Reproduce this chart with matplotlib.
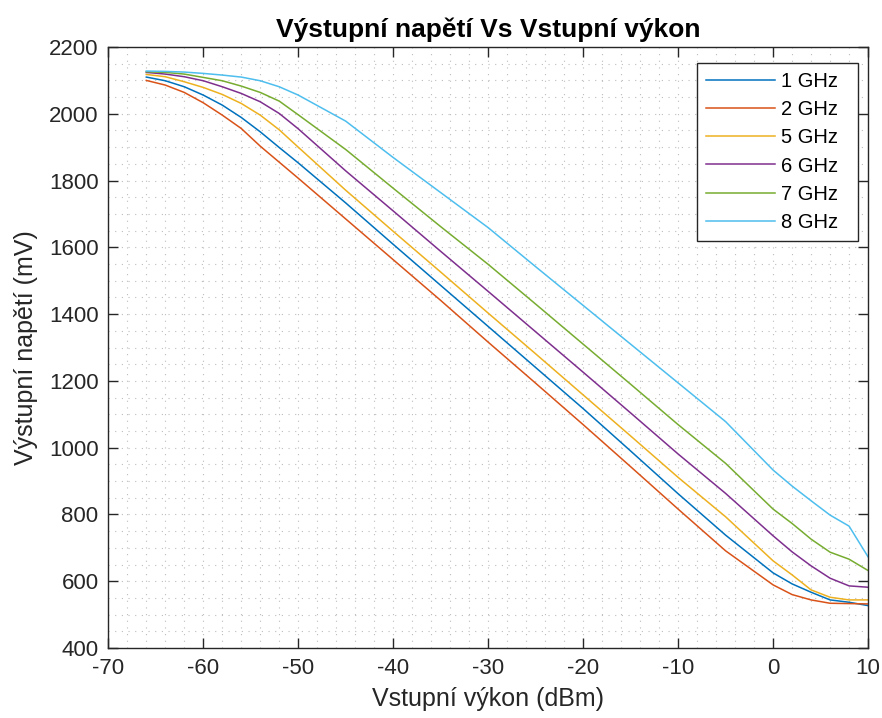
import numpy as np
import matplotlib.pyplot as plt
from matplotlib.ticker import MultipleLocator

plt.rcParams['font.family'] = ['Liberation Sans', 'DejaVu Sans']
plt.rcParams['axes.unicode_minus'] = False

# vstupni vykon (dBm)
pin = [-66, -64, -62, -60, -58, -56, -54, -52, -50, -45, -40, -35, -30,
       -25, -20, -15, -10, -5, 0, 2, 4, 6, 8, 10]

# vystupni napeti (mV) pro jednotlive frekvence
v_1ghz = [2110, 2099, 2081, 2056, 2026, 1989, 1946, 1899, 1853, 1733, 1609, 1486, 1363,
          1240, 1117, 990, 862, 738, 625, 592, 567, 544, 537, 527]
v_2ghz = [2100, 2086, 2064, 2033, 1996, 1956, 1903, 1855, 1807, 1685, 1563, 1441, 1316,
          1193, 1069, 943, 816, 691, 589, 560, 544, 534, 533, 532]
v_5ghz = [2118, 2111, 2096, 2079, 2058, 2031, 1996, 1952, 1900, 1771, 1648, 1526, 1403,
          1281, 1158, 1035, 911, 793, 661, 619, 574, 552, 544, 544]
v_6ghz = [2124, 2119, 2111, 2099, 2081, 2061, 2036, 2001, 1955, 1829, 1709, 1588, 1468,
          1347, 1226, 1104, 981, 863, 736, 688, 646, 609, 586, 582]
v_7ghz = [2126, 2124, 2119, 2109, 2099, 2083, 2064, 2038, 1997, 1893, 1777, 1662, 1549,
          1430, 1310, 1190, 1069, 953, 816, 773, 726, 687, 666, 632]
v_8ghz = [2128, 2127, 2125, 2121, 2116, 2110, 2099, 2081, 2056, 1978, 1869, 1764, 1659,
          1542, 1426, 1310, 1194, 1078, 933, 885, 841, 798, 765, 673]

serie = [v_1ghz, v_2ghz, v_5ghz, v_6ghz, v_7ghz, v_8ghz]
popisky = ['1 GHz', '2 GHz', '5 GHz', '6 GHz', '7 GHz', '8 GHz']
barvy = ['#0072BD', '#D95319', '#EDB120', '#7E2F8E', '#77AC30', '#4DBEEE']

fig = plt.figure(figsize=(8.82, 7.18), dpi=100)
ax = fig.add_axes([0.1228, 0.0975, 0.8614, 0.837])

for v, lab, c in zip(serie, popisky, barvy):
    ax.plot(pin, v, color=c, linewidth=1.1, label=lab)

ax.set_xlim(-70, 10)
ax.set_ylim(400, 2200)
ax.xaxis.set_major_locator(MultipleLocator(10))
ax.yaxis.set_major_locator(MultipleLocator(200))
ax.xaxis.set_minor_locator(MultipleLocator(2))
ax.yaxis.set_minor_locator(MultipleLocator(50))

ax.grid(True, which='both', linestyle=(0, (1, 5)), color='#bdbdbd', linewidth=0.8)
ax.tick_params(which='major', direction='in', length=7, width=1.0, top=True, right=True,
               labelsize=16, colors='#262626', pad=7)
ax.tick_params(which='minor', length=0)
for s in ax.spines.values():
    s.set_color('#262626')
    s.set_linewidth(1.0)

ax.set_xlabel('Vstupní výkon (dBm)', fontsize=18, color='#262626', labelpad=6)
ax.set_ylabel('Výstupní napětí (mV)', fontsize=18, color='#262626', labelpad=8)
ax.set_title('Výstupní napětí Vs Vstupní výkon', fontsize=19, fontweight='bold', pad=7)

leg = ax.legend(loc='upper right', fontsize=14.5, handlelength=3.4, fancybox=False,
                framealpha=1, edgecolor='#262626', borderpad=0.45, labelspacing=0.46,
                handletextpad=0.3, borderaxespad=0, bbox_to_anchor=(0.987, 0.974))
leg.get_frame().set_linewidth(1.0)
for t in leg.get_texts():
    t.set_text(t.get_text() + '  ')

fig.savefig('out.png', dpi=100)
